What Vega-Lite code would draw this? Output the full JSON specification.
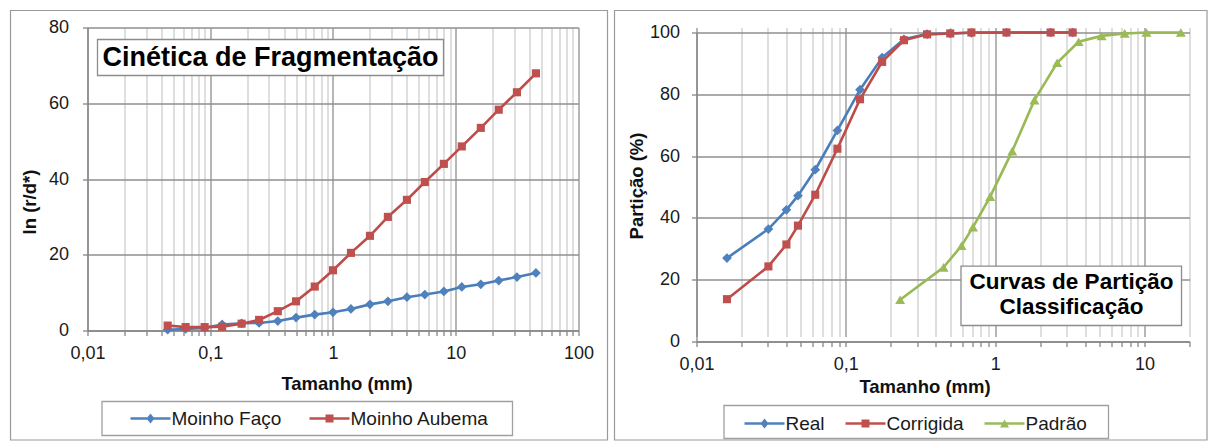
{
  "$schema": "https://vega.github.io/schema/vega-lite/v6.json",
  "padding": {"left": 9.5, "top": 9.5, "right": 0, "bottom": 0},
  "background": "white",
  "config": {
    "font": "Liberation Sans",
    "view": {"stroke": null},
    "axis": {
      "labelFont": "Liberation Sans", "labelFontSize": 18, "labelColor": "#1a1a1a",
      "titleFont": "Liberation Sans", "titleFontSize": 18.5, "titleFontWeight": "bold", "titleColor": "#111111",
      "domainColor": "#868686", "domainWidth": 1.3, "tickColor": "#868686", "tickWidth": 1.3, "tickSize": 5,
      "gridWidth": 1.3, "labelFlush": false, "labelOverlap": false
    },
    "legend": {"labelFont": "Liberation Sans", "labelFontSize": 19, "labelColor": "#1a1a1a"}
  },
  "datasets": {
    "frag": [
      {"serie": "Moinho Faço", "tamanho": 0.045, "valor": 0.2},
      {"serie": "Moinho Faço", "tamanho": 0.063, "valor": 0.4},
      {"serie": "Moinho Faço", "tamanho": 0.09, "valor": 0.7},
      {"serie": "Moinho Faço", "tamanho": 0.125, "valor": 1.6},
      {"serie": "Moinho Faço", "tamanho": 0.18, "valor": 1.9},
      {"serie": "Moinho Faço", "tamanho": 0.25, "valor": 2.0},
      {"serie": "Moinho Faço", "tamanho": 0.355, "valor": 2.5},
      {"serie": "Moinho Faço", "tamanho": 0.5, "valor": 3.4},
      {"serie": "Moinho Faço", "tamanho": 0.71, "valor": 4.2},
      {"serie": "Moinho Faço", "tamanho": 1, "valor": 4.8},
      {"serie": "Moinho Faço", "tamanho": 1.4, "valor": 5.7},
      {"serie": "Moinho Faço", "tamanho": 2, "valor": 6.9},
      {"serie": "Moinho Faço", "tamanho": 2.8, "valor": 7.7},
      {"serie": "Moinho Faço", "tamanho": 4, "valor": 8.8},
      {"serie": "Moinho Faço", "tamanho": 5.6, "valor": 9.5},
      {"serie": "Moinho Faço", "tamanho": 8, "valor": 10.3},
      {"serie": "Moinho Faço", "tamanho": 11.2, "valor": 11.5},
      {"serie": "Moinho Faço", "tamanho": 16, "valor": 12.2},
      {"serie": "Moinho Faço", "tamanho": 22.4, "valor": 13.2},
      {"serie": "Moinho Faço", "tamanho": 31.5, "valor": 14.1},
      {"serie": "Moinho Faço", "tamanho": 45, "valor": 15.2},
      {"serie": "Moinho Aubema", "tamanho": 0.045, "valor": 1.3},
      {"serie": "Moinho Aubema", "tamanho": 0.063, "valor": 0.9},
      {"serie": "Moinho Aubema", "tamanho": 0.09, "valor": 0.9},
      {"serie": "Moinho Aubema", "tamanho": 0.125, "valor": 1.0},
      {"serie": "Moinho Aubema", "tamanho": 0.18, "valor": 1.8},
      {"serie": "Moinho Aubema", "tamanho": 0.25, "valor": 2.8},
      {"serie": "Moinho Aubema", "tamanho": 0.355, "valor": 5.1},
      {"serie": "Moinho Aubema", "tamanho": 0.5, "valor": 7.7},
      {"serie": "Moinho Aubema", "tamanho": 0.71, "valor": 11.6},
      {"serie": "Moinho Aubema", "tamanho": 1, "valor": 15.9},
      {"serie": "Moinho Aubema", "tamanho": 1.4, "valor": 20.5},
      {"serie": "Moinho Aubema", "tamanho": 2, "valor": 25.0},
      {"serie": "Moinho Aubema", "tamanho": 2.8, "valor": 30.0},
      {"serie": "Moinho Aubema", "tamanho": 4, "valor": 34.5},
      {"serie": "Moinho Aubema", "tamanho": 5.6, "valor": 39.2},
      {"serie": "Moinho Aubema", "tamanho": 8, "valor": 44.0},
      {"serie": "Moinho Aubema", "tamanho": 11.2, "valor": 48.6},
      {"serie": "Moinho Aubema", "tamanho": 16, "valor": 53.5},
      {"serie": "Moinho Aubema", "tamanho": 22.4, "valor": 58.3},
      {"serie": "Moinho Aubema", "tamanho": 31.5, "valor": 62.9},
      {"serie": "Moinho Aubema", "tamanho": 45, "valor": 67.9}
    ],
    "part": [
      {"serie": "Real", "tamanho": 0.016, "valor": 27.0},
      {"serie": "Real", "tamanho": 0.0303, "valor": 36.4},
      {"serie": "Real", "tamanho": 0.040, "valor": 42.6},
      {"serie": "Real", "tamanho": 0.0478, "valor": 47.2},
      {"serie": "Real", "tamanho": 0.0624, "valor": 55.6},
      {"serie": "Real", "tamanho": 0.0878, "valor": 68.3},
      {"serie": "Real", "tamanho": 0.1244, "valor": 81.5},
      {"serie": "Real", "tamanho": 0.175, "valor": 91.9},
      {"serie": "Real", "tamanho": 0.245, "valor": 97.8},
      {"serie": "Real", "tamanho": 0.35, "valor": 99.5},
      {"serie": "Real", "tamanho": 0.5, "valor": 99.7},
      {"serie": "Real", "tamanho": 0.693, "valor": 99.9},
      {"serie": "Real", "tamanho": 1.19, "valor": 100},
      {"serie": "Real", "tamanho": 2.35, "valor": 100},
      {"serie": "Real", "tamanho": 3.3, "valor": 100},
      {"serie": "Corrigida", "tamanho": 0.016, "valor": 13.7},
      {"serie": "Corrigida", "tamanho": 0.0303, "valor": 24.3},
      {"serie": "Corrigida", "tamanho": 0.040, "valor": 31.4},
      {"serie": "Corrigida", "tamanho": 0.0478, "valor": 37.5},
      {"serie": "Corrigida", "tamanho": 0.0624, "valor": 47.5},
      {"serie": "Corrigida", "tamanho": 0.0878, "valor": 62.4},
      {"serie": "Corrigida", "tamanho": 0.1244, "valor": 78.4},
      {"serie": "Corrigida", "tamanho": 0.175, "valor": 90.5},
      {"serie": "Corrigida", "tamanho": 0.245, "valor": 97.5},
      {"serie": "Corrigida", "tamanho": 0.35, "valor": 99.4},
      {"serie": "Corrigida", "tamanho": 0.5, "valor": 99.7},
      {"serie": "Corrigida", "tamanho": 0.693, "valor": 100},
      {"serie": "Corrigida", "tamanho": 1.19, "valor": 100},
      {"serie": "Corrigida", "tamanho": 2.35, "valor": 100},
      {"serie": "Corrigida", "tamanho": 3.3, "valor": 100},
      {"serie": "Padrão", "tamanho": 0.231, "valor": 13.5},
      {"serie": "Padrão", "tamanho": 0.451, "valor": 24.0},
      {"serie": "Padrão", "tamanho": 0.595, "valor": 31.0},
      {"serie": "Padrão", "tamanho": 0.71, "valor": 37.0},
      {"serie": "Padrão", "tamanho": 0.926, "valor": 46.9},
      {"serie": "Padrão", "tamanho": 1.30, "valor": 61.6},
      {"serie": "Padrão", "tamanho": 1.83, "valor": 78.1},
      {"serie": "Padrão", "tamanho": 2.60, "valor": 90.2},
      {"serie": "Padrão", "tamanho": 3.62, "valor": 97.0},
      {"serie": "Padrão", "tamanho": 5.16, "valor": 98.9},
      {"serie": "Padrão", "tamanho": 7.36, "valor": 99.7},
      {"serie": "Padrão", "tamanho": 10.3, "valor": 100},
      {"serie": "Padrão", "tamanho": 17.5, "valor": 100}
    ]
  },
  "bounds": "flush",
  "spacing": 118,
  "resolve": {
    "scale": {"color": "independent", "stroke": "independent", "shape": "independent"},
    "legend": {"color": "independent", "shape": "independent", "stroke": "independent"}
  },
  "hconcat": [
    {
      "width": 491,
      "height": 303,
      "layer": [
        {
          "data": {"values": [{}]},
          "mark": {"type": "rect", "fill": "white", "fillOpacity": 0, "stroke": "#9a9a9a", "strokeWidth": 1.2, "clip": false},
          "encoding": {
            "x": {"datum": 0.0023592, "type": "quantitative"},
            "x2": {"datum": 172.3},
            "y": {"datum": 84.488, "type": "quantitative"},
            "y2": {"datum": -28.911}
          }
        },
        {
          "data": {"name": "frag"},
          "mark": {"type": "line", "strokeWidth": 2.6},
          "encoding": {
            "x": {
              "field": "tamanho", "type": "quantitative",
              "scale": {"type": "log", "domain": [0.01, 100], "nice": false},
              "axis": {
                "title": "Tamanho (mm)",
                "values": [0.01,0.02,0.03,0.04,0.05,0.06,0.07,0.08,0.09,0.1,0.2,0.3,0.4,0.5,0.6,0.7,0.8,0.9,1,2,3,4,5,6,7,8,9,10,20,30,40,50,60,70,80,90,100],
                "labelExpr": "indexof([0.01,0.1,1,10,100], datum.value) >= 0 ? replace(toString(datum.value), '.', ',') : ''",
                "grid": true,
                "gridColor": {"condition": {"test": "indexof([0.01,0.1,1,10,100], datum.value) >= 0", "value": "#8f8f8f"}, "value": "#cdcdcd"},
                "labelPadding": 9,
                "titleX": 259, "titleY": 59, "titleBaseline": "alphabetic", "titleAlign": "center"
              }
            },
            "y": {
              "field": "valor", "type": "quantitative",
              "scale": {"domain": [0, 80], "nice": false, "zero": false},
              "axis": {
                "title": "ln (r/d*)",
                "values": [0,10,20,30,40,50,60,70,80],
                "labelExpr": "datum.value % 20 == 0 ? datum.label : ''",
                "grid": true,
                "gridColor": {"condition": {"test": "datum.value % 20 == 0", "value": "#8f8f8f"}, "value": "#cdcdcd"},
                "labelPadding": 14,
                "titleAngle": 270, "titleX": -58, "titleY": 174, "titleBaseline": "middle", "titleAlign": "center"
              }
            },
            "stroke": {"field": "serie", "type": "nominal", "scale": {"domain": ["Moinho Aubema", "Moinho Faço"], "range": ["#BE4B48", "#4A7EBB"]}, "legend": null},
            "detail": {"field": "serie"}
          }
        },
        {
          "data": {"name": "frag"},
          "transform": [{"filter": {"field": "serie", "equal": "Moinho Faço"}}],
          "mark": {"type": "point", "shape": "diamond", "filled": true, "size": 95, "opacity": 1, "color": "#4F81BD"},
          "encoding": {
            "x": {"field": "tamanho", "type": "quantitative"},
            "y": {"field": "valor", "type": "quantitative"}
          }
        },
        {
          "data": {"name": "frag"},
          "transform": [{"filter": {"field": "serie", "equal": "Moinho Aubema"}}],
          "mark": {"type": "point", "shape": "square", "filled": true, "size": 66, "opacity": 1, "color": "#C0504D"},
          "encoding": {
            "x": {"field": "tamanho", "type": "quantitative"},
            "y": {"field": "valor", "type": "quantitative"}
          }
        },
        {
          "data": {"values": [{}]},
          "mark": {"type": "rect", "fill": "white", "stroke": "#8c8c8c", "strokeWidth": 1.3, "clip": false},
          "encoding": {
            "x": {"datum": 0.012063, "type": "quantitative"},
            "x2": {"datum": 7.9469},
            "y": {"datum": 76.832, "type": "quantitative"},
            "y2": {"datum": 67.327}
          }
        },
        {
          "data": {"values": [{}]},
          "mark": {"type": "text", "text": "Cinética de Fragmentação", "font": "Liberation Sans", "fontSize": 27, "fontWeight": "bold", "color": "#000000", "align": "center", "baseline": "middle", "clip": false},
          "encoding": {
            "x": {"datum": 0.30968, "type": "quantitative"},
            "y": {"datum": 72.079, "type": "quantitative"}
          }
        },
        {
          "data": {"values": [{}]},
          "mark": {"type": "rect", "fill": "white", "fillOpacity": 0, "stroke": "#a0a0a0", "strokeWidth": 1.3, "clip": false},
          "encoding": {
            "x": {"datum": 0.013125, "type": "quantitative"},
            "x2": {"datum": 28.996},
            "y": {"datum": -18.746, "type": "quantitative"},
            "y2": {"datum": -27.723}
          }
        },
        {
          "data": {"name": "frag"},
          "transform": [{"filter": "false"}],
          "mark": {"type": "point", "filled": true, "opacity": 1},
          "encoding": {
            "color": {
              "field": "serie", "type": "nominal",
              "scale": {"domain": ["Moinho Faço", "Moinho Aubema"], "range": ["#4F81BD", "#C0504D"]},
              "legend": {"title": null, "orient": "none", "legendX": 43, "legendY": 371, "direction": "horizontal", "symbolSize": 1600, "symbolStrokeWidth": 0, "symbolOpacity": 1, "labelOffset": 1, "columnPadding": 28, "padding": 0, "zindex": 2}
            },
            "shape": {
              "field": "serie", "type": "nominal",
              "scale": {"domain": ["Moinho Faço", "Moinho Aubema"], "range": ["M-1,-0.06H1V0.06H-1Z M0,-0.25L0.2,0L0,0.25L-0.2,0Z", "M-1,-0.06H1V0.06H-1Z M-0.2,-0.2H0.2V0.2H-0.2Z"]},
              "legend": {"title": null, "orient": "none", "legendX": 43, "legendY": 371, "direction": "horizontal", "symbolSize": 1600, "symbolStrokeWidth": 0, "symbolOpacity": 1, "labelOffset": 1, "columnPadding": 28, "padding": 0, "zindex": 2}
            }
          }
        }
      ]
    },
    {
      "width": 493,
      "height": 314,
      "layer": [
        {
          "data": {"values": [{}]},
          "mark": {"type": "rect", "fill": "white", "fillOpacity": 0, "stroke": "#9a9a9a", "strokeWidth": 1.2, "clip": false},
          "encoding": {
            "x": {"datum": 0.0028248, "type": "quantitative"},
            "x2": {"datum": 26.195},
            "y": {"datum": 107.12, "type": "quantitative"},
            "y2": {"datum": -31.877}
          }
        },
        {
          "data": {"name": "part"},
          "mark": {"type": "line", "strokeWidth": 2.6},
          "encoding": {
            "x": {
              "field": "tamanho", "type": "quantitative",
              "scale": {"type": "log", "domain": [0.01, 20], "nice": false},
              "axis": {
                "title": "Tamanho (mm)",
                "values": [0.01,0.02,0.03,0.04,0.05,0.06,0.07,0.08,0.09,0.1,0.2,0.3,0.4,0.5,0.6,0.7,0.8,0.9,1,2,3,4,5,6,7,8,9,10,20],
                "labelExpr": "indexof([0.01,0.1,1,10], datum.value) >= 0 ? replace(toString(datum.value), '.', ',') : ''",
                "grid": true,
                "gridColor": {"condition": {"test": "indexof([0.01,0.1,1,10], datum.value) >= 0", "value": "#8f8f8f"}, "value": "#cdcdcd"},
                "labelPadding": 9,
                "titleX": 228, "titleY": 51, "titleBaseline": "alphabetic", "titleAlign": "center"
              }
            },
            "y": {
              "field": "valor", "type": "quantitative",
              "scale": {"domain": [0, 100], "range": [314, 5], "nice": false, "zero": false},
              "axis": {
                "title": "Partição (%)",
                "values": [0,10,20,30,40,50,60,70,80,90,100],
                "labelExpr": "datum.value % 20 == 0 ? datum.label : ''",
                "grid": true,
                "gridColor": {"condition": {"test": "datum.value % 20 == 0", "value": "#8f8f8f"}, "value": "transparent"},
                "labelPadding": 12,
                "titleAngle": 270, "titleX": -60, "titleY": 158, "titleBaseline": "middle", "titleAlign": "center"
              }
            },
            "stroke": {"field": "serie", "type": "nominal", "scale": {"domain": ["Padrão", "Corrigida", "Real"], "range": ["#98B954", "#BE4B48", "#4A7EBB"]}, "legend": null},
            "detail": {"field": "serie"}
          }
        },
        {
          "data": {"name": "part"},
          "transform": [{"filter": {"field": "serie", "equal": "Real"}}],
          "mark": {"type": "point", "shape": "diamond", "filled": true, "size": 95, "opacity": 1, "color": "#4F81BD"},
          "encoding": {
            "x": {"field": "tamanho", "type": "quantitative"},
            "y": {"field": "valor", "type": "quantitative"}
          }
        },
        {
          "data": {"name": "part"},
          "transform": [{"filter": {"field": "serie", "equal": "Corrigida"}}],
          "mark": {"type": "point", "shape": "square", "filled": true, "size": 66, "opacity": 1, "color": "#C0504D"},
          "encoding": {
            "x": {"field": "tamanho", "type": "quantitative"},
            "y": {"field": "valor", "type": "quantitative"}
          }
        },
        {
          "data": {"name": "part"},
          "transform": [{"filter": {"field": "serie", "equal": "Padrão"}}],
          "mark": {"type": "point", "shape": "triangle-up", "filled": true, "size": 100, "opacity": 1, "color": "#9BBB59"},
          "encoding": {
            "x": {"field": "tamanho", "type": "quantitative"},
            "y": {"field": "valor", "type": "quantitative"}
          }
        },
        {
          "data": {"values": [{}]},
          "mark": {"type": "rect", "fill": "white", "stroke": "#8c8c8c", "strokeWidth": 1.3, "clip": false},
          "encoding": {
            "x": {"datum": 0.59024, "type": "quantitative"},
            "x2": {"datum": 17.683},
            "y": {"datum": 24.37, "type": "quantitative"},
            "y2": {"datum": 5.178}
          }
        },
        {
          "data": {"values": [{}]},
          "mark": {"type": "text", "text": ["Curvas de Partição", "Classificação"], "lineHeight": 25, "font": "Liberation Sans", "fontSize": 22.5, "fontWeight": "bold", "color": "#000000", "align": "center", "baseline": "middle", "clip": false},
          "encoding": {
            "x": {"datum": 3.2426, "type": "quantitative"},
            "y": {"datum": 19.094, "type": "quantitative"}
          }
        },
        {
          "data": {"values": [{}]},
          "mark": {"type": "rect", "fill": "white", "fillOpacity": 0, "stroke": "#a0a0a0", "strokeWidth": 1.3, "clip": false},
          "encoding": {
            "x": {"datum": 0.015281, "type": "quantitative"},
            "x2": {"datum": 5.7366},
            "y": {"datum": -20.712, "type": "quantitative"},
            "y2": {"datum": -31.39}
          }
        },
        {
          "data": {"name": "part"},
          "mark": {"type": "point", "filled": true, "opacity": 0},
          "encoding": {
            "x": {"field": "tamanho", "type": "quantitative"},
            "y": {"field": "valor", "type": "quantitative"},
            "color": {
              "field": "serie", "type": "nominal",
              "scale": {"domain": ["Real", "Corrigida", "Padrão"], "range": ["#4F81BD", "#C0504D", "#9BBB59"]},
              "legend": {"title": null, "orient": "none", "legendX": 48, "legendY": 376, "direction": "horizontal", "symbolSize": 1600, "symbolStrokeWidth": 0, "symbolOpacity": 1, "labelOffset": 1, "columnPadding": 20, "padding": 0, "zindex": 2}
            },
            "shape": {
              "field": "serie", "type": "nominal",
              "scale": {"domain": ["Real", "Corrigida", "Padrão"], "range": ["M-1,-0.06H1V0.06H-1Z M0,-0.25L0.2,0L0,0.25L-0.2,0Z", "M-1,-0.06H1V0.06H-1Z M-0.2,-0.2H0.2V0.2H-0.2Z", "M-1,-0.06H1V0.06H-1Z M0,-0.2L0.225,0.2H-0.225Z"]},
              "legend": {"title": null, "orient": "none", "legendX": 48, "legendY": 376, "direction": "horizontal", "symbolSize": 1600, "symbolStrokeWidth": 0, "symbolOpacity": 1, "labelOffset": 1, "columnPadding": 20, "padding": 0, "zindex": 2}
            }
          }
        }
      ]
    }
  ]
}
